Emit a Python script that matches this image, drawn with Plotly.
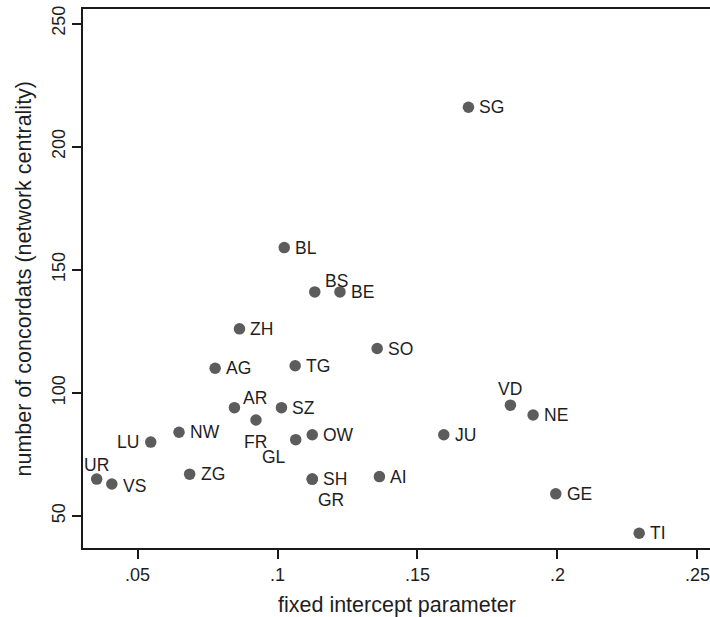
import plotly.graph_objects as go

# ---- data ----
cantons = ["SG", "BL", "BS", "BE", "SO", "ZH", "AG", "TG", "VD", "AR", "SZ", "NE", "FR",
           "NW", "OW", "JU", "GL", "LU", "ZG", "AI", "UR", "SH", "GR", "VS", "GE", "TI"]
intercept = [0.1682, 0.1024, 0.1133, 0.1223, 0.1356, 0.0864, 0.0777, 0.1063, 0.1832, 0.0846,
             0.1014, 0.1913, 0.0923, 0.0648, 0.1124, 0.1594, 0.1065, 0.0547, 0.0686, 0.1364,
             0.0354, 0.1124, 0.1124, 0.0408, 0.1994, 0.2292]
concordats = [216, 159, 141, 141, 118, 126, 110, 111, 95, 94,
              94, 91, 89, 84, 83, 83, 81, 80, 67, 66,
              65, 65, 65, 63, 59, 43]
x_tick_vals = [0.05, 0.10, 0.15, 0.20, 0.25]
x_tick_text = [".05", ".1", ".15", ".2", ".25"]
y_tick_vals = [50, 100, 150, 200, 250]
x_title = "fixed intercept parameter"
y_title = "number of concordats (network centrality)"

# ---- label placement (style) ----
default_pos = ("left", 9, 0)
label_pos = {
    "BS": ("left", 8, 11),
    "AR": ("left", 7, 10),
    "FR": ("center", 0, -22),
    "GL": ("right", -8, -17),
    "GR": ("left", 4, -21),
    "LU": ("right", -10, 0),
    "UR": ("center", 0, 14),
    "VD": ("center", 0, 16),
    "VS": ("left", 9, -2),
}

FONT = "Liberation Sans, Arial, sans-serif"
TXT = "#1e1e1e"

fig = go.Figure()
fig.add_trace(go.Scatter(
    x=intercept, y=concordats, mode="markers",
    marker=dict(size=11.5, color="#5c5c5c", line=dict(width=0)),
    hoverinfo="text", text=cantons, showlegend=False, cliponaxis=False,
))

for name, xv, yv in zip(cantons, intercept, concordats):
    anchor, dx, dy = label_pos.get(name, default_pos)
    fig.add_annotation(
        x=xv, y=yv, text=name, showarrow=False,
        xanchor=anchor, yanchor="middle", xshift=dx, yshift=dy,
        font=dict(family=FONT, size=17.5, color=TXT),
    )

# axis titles
fig.add_annotation(
    xref="paper", yref="paper", x=0.5, y=0, xanchor="center", yanchor="middle",
    yshift=-57, text=x_title, showarrow=False,
    font=dict(size=21.5, family=FONT, color=TXT),
)
fig.add_annotation(
    xref="paper", yref="paper", x=0, y=0.5, xanchor="center", yanchor="middle",
    xshift=-60, textangle=-90, text=y_title, showarrow=False,
    font=dict(size=21.5, family=FONT, color=TXT),
)

fig.update_layout(
    width=710, height=617,
    margin=dict(l=83, r=0, t=9, b=69),
    paper_bgcolor="white", plot_bgcolor="white",
    font=dict(family=FONT, color=TXT),
    xaxis=dict(
        range=[0.0305, 0.2545], tickvals=x_tick_vals, ticktext=x_tick_text,
        automargin=False, ticklabeloverflow="allow",
        showgrid=False, zeroline=False, showline=True, linecolor="#1a1a1a", linewidth=2,
        mirror=True, ticks="outside", ticklen=9, tickwidth=1.5, tickcolor="#1a1a1a",
        tickfont=dict(size=18, family=FONT, color=TXT),
    ),
    yaxis=dict(
        range=[37.0, 255.9], tickvals=y_tick_vals,
        automargin=False, ticklabeloverflow="allow",
        showgrid=False, zeroline=False, showline=True, linecolor="#1a1a1a", linewidth=2,
        mirror=False, ticks="outside", ticklen=9, tickwidth=1.5, tickcolor="#1a1a1a",
        tickangle=-90,
        tickfont=dict(size=18, family=FONT, color=TXT),
    ),
)

fig.write_html(
    "out.html",
    config={"displayModeBar": False},
    post_script="document.body.style.margin='0';document.body.style.padding='0';",
)
